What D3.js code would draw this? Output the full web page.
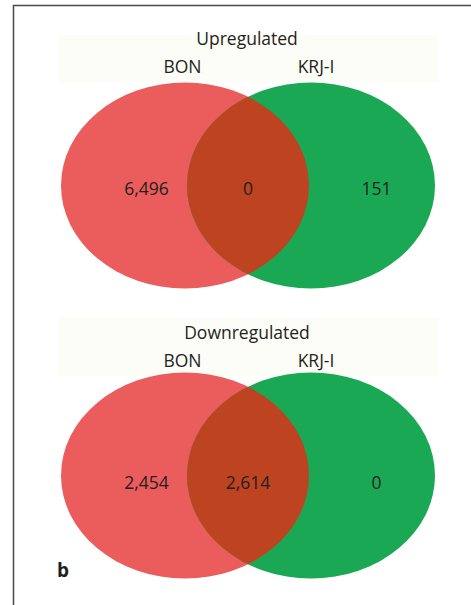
<!DOCTYPE html>
<html>
<head>
<meta charset="utf-8">
<script src="https://cdn.jsdelivr.net/npm/d3@7/dist/d3.min.js"></script>
<style>
  html, body { margin: 0; padding: 0; background: #fff; }
  svg { display: block; }
</style>
</head>
<body>
<svg id="chart" width="471" height="605"></svg>
<script>
// Set names and the two comparisons
const setNames = ["BON", "KRJ-I"];
const panelTitles = ["Upregulated", "Downregulated"];
// Region counts: [only BON, both, only KRJ-I]
const upCounts = [6496, 0, 151];
const downCounts = [2454, 2614, 0];
const panels = [
  { title: panelTitles[0], counts: upCounts },
  { title: panelTitles[1], counts: downCounts }
];

const svg = d3.select("#chart");
const fmt = d3.format(",");
const font = "'Open Sans', 'DejaVu Sans', sans-serif";
const ink = "#231f20";

// Frame (left and top rules)
svg.append("path")
  .attr("d", "M13.5,605 L13.5,5.5 L471,5.5")
  .attr("fill", "none").attr("stroke", "#4a4a4a").attr("stroke-width", 1.5);

// Horizontal layout: circle centres and label positions
const cx = d3.scalePoint().domain(setNames).range([185, 311]);
const labelX = d3.scaleOrdinal().domain([0, 1, 2]).range([146.5, 248, 376.5]);
const rx = 124, ry = 103;

const panelTop = d3.scaleOrdinal().domain([0, 1]).range([0, 290]);
const textTop = d3.scaleOrdinal().domain([0, 1]).range([0, 294]);

panels.forEach((p, i) => {
  const g = svg.append("g");
  const dy = panelTop(i), ty = textTop(i);
  const cy = 185.5 + dy;

  // faint header band
  g.append("rect")
    .attr("x", 58).attr("y", i === 0 ? 35 : 318)
    .attr("width", 380).attr("height", i === 0 ? 47 : 58)
    .attr("fill", "#fdfdf8");

  g.append("text")
    .attr("x", 247).attr("y", 45 + ty)
    .attr("text-anchor", "middle")
    .attr("font-family", font).attr("font-size", 17.5).attr("fill", ink)
    .text(p.title);

  g.selectAll("text.set").data(setNames).enter().append("text")
    .attr("class", "set")
    .attr("x", (d, k) => k === 0 ? 182.5 : 316)
    .attr("y", 72.5 + ty)
    .attr("text-anchor", "middle")
    .attr("font-family", font).attr("font-size", 17.5).attr("fill", ink)
    .text(d => d);

  const colors = ["#eb5c5d", "#1aa854"];
  g.selectAll("ellipse.set").data(setNames).enter().append("ellipse")
    .attr("class", "set")
    .attr("cx", d => cx(d)).attr("cy", cy)
    .attr("rx", rx).attr("ry", ry)
    .attr("fill", (d, k) => colors[k]);

  // overlap region: second ellipse clipped by the first
  const clipId = "clip" + i;
  g.append("clipPath").attr("id", clipId)
    .append("ellipse")
    .attr("cx", cx(setNames[0])).attr("cy", cy).attr("rx", rx).attr("ry", ry);
  g.append("ellipse")
    .attr("cx", cx(setNames[1])).attr("cy", cy).attr("rx", rx).attr("ry", ry)
    .attr("clip-path", `url(#${clipId})`)
    .attr("fill", "#be4321");

  g.selectAll("text.count").data(p.counts).enter().append("text")
    .attr("class", "count")
    .attr("x", (d, k) => labelX(k))
    .attr("y", 195 + ty)
    .attr("text-anchor", "middle")
    .attr("font-family", font).attr("font-size", 17.5).attr("fill", ink)
    .text(d => fmt(d));
});

// Panel letter
svg.append("text")
  .attr("x", 57).attr("y", 577)
  .attr("font-family", font).attr("font-weight", "bold")
  .attr("font-size", 19).attr("fill", ink)
  .text("b");
</script>
</body>
</html>
